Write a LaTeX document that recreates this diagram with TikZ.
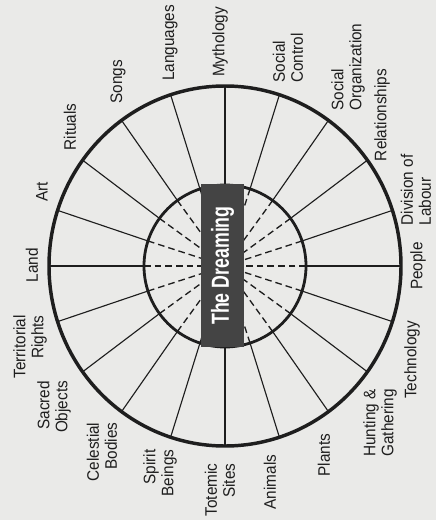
\documentclass[tikz,border=0pt]{standalone}
\usepackage{fontspec}
\setmainfont{Liberation Sans}
\newfontfamily\topicfont[FakeStretch=0.92]{Liberation Sans}
\usepackage{graphicx}
\definecolor{PaperGrey}{RGB}{234,234,232}
\definecolor{InkGrey}{RGB}{30,30,30}
\definecolor{DreamGrey}{RGB}{68,68,68}
\tikzset{
  outerring/.style={draw=InkGrey, line width=2.6pt},
  innerring/.style={draw=InkGrey, line width=2.1pt},
  spoke/.style={draw=InkGrey, line width=0.85pt},
  dashspoke/.style={draw=InkGrey, line width=1pt, dash pattern=on 5pt off 3pt},
  dreambox/.style={fill=DreamGrey, text=white, rotate=90, inner sep=0pt,
    minimum width=122pt, minimum height=32pt,
    font=\bfseries\fontsize{18.5}{18.5}\selectfont},
  topic/.style={rotate=90, inner sep=0pt, text=InkGrey,
    font=\topicfont\fontsize{12.5}{13.5}\selectfont},
  topicL/.style={topic, align=left},
  topicR/.style={topic, align=right}
}

\begin{document}
\begin{tikzpicture}[x=0.75pt, y=-0.75pt]
  \fill[PaperGrey] (0,0) rectangle (436,520);
  \useasboundingbox (0,0) rectangle (436,520);
  \coordinate (ctr) at (225,266);
  % twenty spokes, dashed inside the inner ring
  \foreach \a in {0,18,...,342}{
    \draw[dashspoke] ([shift={(\a:81)}]ctr) -- (ctr);
    \draw[spoke] ([shift={(\a:81)}]ctr) -- ([shift={(\a:176 and 180)}]ctr);
  }
  \draw[innerring] (ctr) circle [radius=81];
  \draw[outerring] (ctr) ellipse [x radius=176, y radius=180];
  \node[dreambox] (dream) at (222.5,265.5) {\scalebox{0.72}[1]{The Dreaming}};
  % labels round the outer ring
  \node[topic] (land) at (32,265) {Land};
  \node[topic] (art) at (42,192) {Art};
  \node[topic] (rituals) at (70,127) {Rituals};
  \node[topic] (songs) at (118,82) {Songs};
  \node[topic] (languages) at (170,43) {Languages};
  \node[topic] (mythology) at (220,42) {Mythology};
  \node[topicL] (control) at (288,58) {Social\\Control};
  \node[topicL] (organization) at (348,67) {Social\\Organization};
  \node[topic] (relationships) at (382,115) {Relationships};
  \node[topicL] (division) at (416,190) {Division of\\Labour};
  \node[topic] (people) at (418,266) {People};
  \node[topic] (technology) at (412,360) {Technology};
  \node[topicR] (hunting) at (380,423) {Hunting \&\\Gathering};
  \node[topic] (plants) at (324,455) {Plants};
  \node[topic] (animals) at (270,482) {Animals};
  \node[topicR] (totemic) at (220,490) {Totemic\\Sites};
  \node[topicR] (spirit) at (160,473) {Spirit\\Beings};
  \node[topicR] (celestial) at (102,452) {Celestial\\Bodies};
  \node[topicR] (sacred) at (54,407) {Sacred\\Objects};
  \node[topicR] (territorial) at (30,347) {Territorial\\Rights};
\end{tikzpicture}
\end{document}
